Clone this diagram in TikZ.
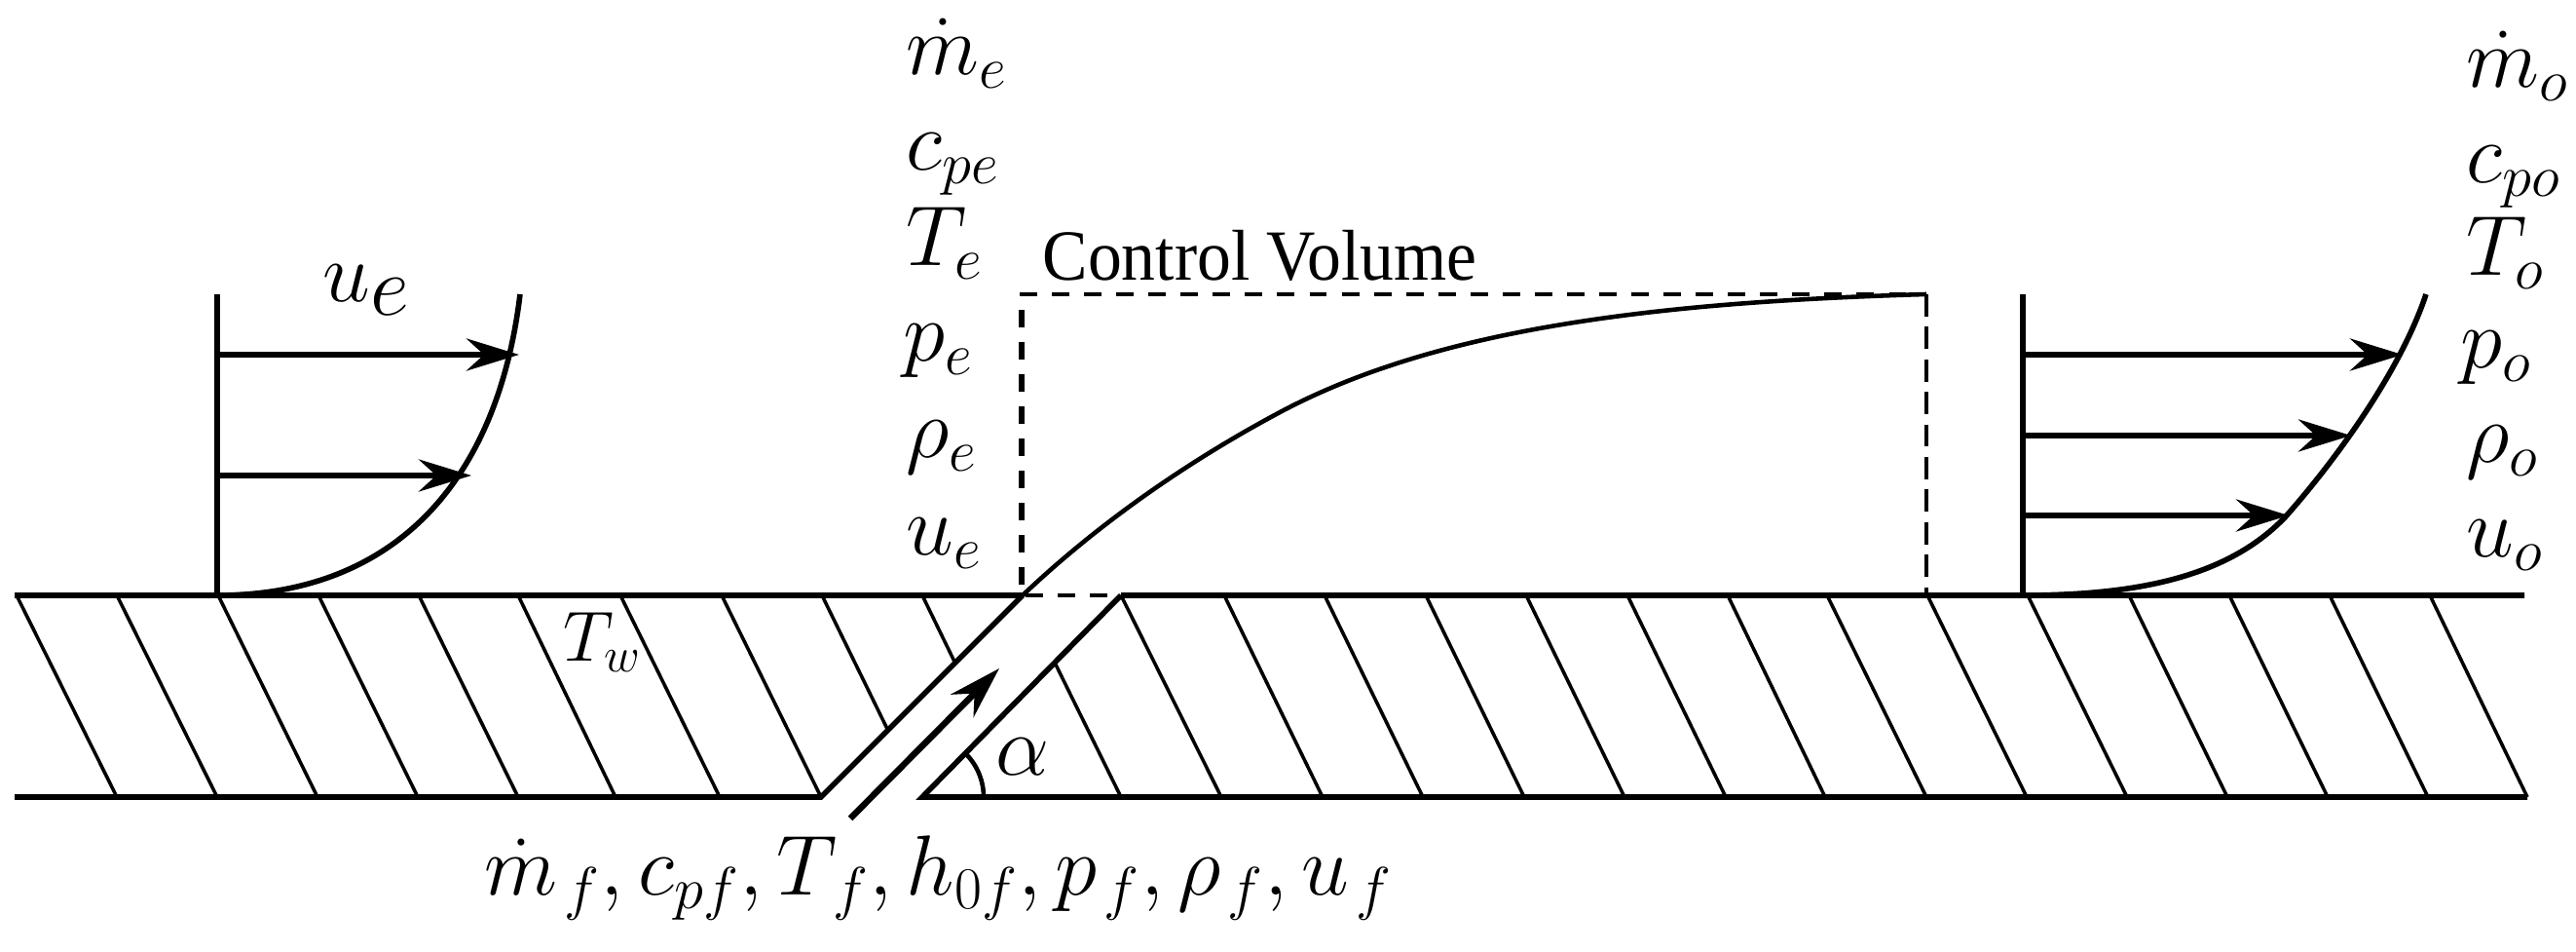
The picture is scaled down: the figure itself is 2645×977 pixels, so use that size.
\documentclass[tikz,border=0pt]{standalone}
\usepackage[no-math]{fontspec}
\usetikzlibrary{arrows.meta}
\newfontfamily\cvfont[FakeStretch=0.943]{Liberation Serif}
\DeclareMathSizes{23}{23}{17}{13}
\DeclareMathSizes{32}{32}{23}{16}
\DeclareMathSizes{20}{20}{14}{11}
\DeclareMathSizes{36}{36}{26}{18}
\tikzset{
  wall/.style={line width=1.6pt},
  hatch/.style={line width=1pt},
  profile/.style={line width=1.6pt},
  axisline/.style={line width=1.7pt},
  velarrow/.style={line width=1.85pt,-{Stealth[length=5.4mm,width=3.3mm,inset=1.8mm]}},
  cvdash/.style={line width=1.4pt,dash pattern=on 5.1pt off 4.3pt},
  cvside/.style={line width=1.7pt,dash pattern=on 5pt off 4.4pt},
  lbl/.style={anchor=base west,inner sep=0pt,font=\fontsize{23}{28}\selectfont}
}
\begin{document}
\begin{tikzpicture}[x=0.01cm,y=-0.01cm]
      \useasboundingbox (0,0) rectangle (2645,977);
      \draw
        (930,77) node[lbl] (me){$\dot m_e$}
        (930,175) node[lbl] (cpe){$c_{pe}$}
        (930,273) node[lbl] (Te){$T_e$}
        (927,371) node[lbl] (pe){$p_e$}
        (930,470) node[lbl] (rhoe){$\rho_e$}
        (930,570) node[lbl] (ue){$u_e$}
        (2532,90) node[lbl] (mo){$\dot m_o$}
        (2532,188) node[lbl] (cpo){$c_{po}$}
        (2532,283) node[lbl] (To){$T_o$}
        (2526,378) node[lbl] (po){$p_o$}
        (2532,475) node[lbl] (rhoo){$\rho_o$}
        (2532,572) node[lbl] (uo){$u_o$}
        (331,310) node[lbl,font=\fontsize{32}{38}\selectfont] (ut){$u_e$}
        (1070,288) node[lbl,font=\fontsize{21}{25}\cvfont] (cv){Control Volume}
        (578,679) node[lbl,font=\fontsize{20}{24}\selectfont] (tw){$T_w$}
        (1022,796) node[lbl,font=\fontsize{36}{42}\selectfont] (al){$\alpha$}
        (497,919) node[lbl] (feed){$\dot m_{\mkern2mu f},c_{pf},T_{\mkern2mu f},h_{0f},p_{\mkern2mu f},\rho_{\mkern2mu f},u_{\mkern2mu f}$};
      \coordinate (wl) at (15,611);
      \coordinate (wa) at (1050,611);
      \coordinate (wa2) at (1053,611);
      \coordinate (wb) at (1151,611);
      \coordinate (wr) at (2592,611);
      \coordinate (bl) at (15,818);
      \coordinate (ba) at (843,818);
      \coordinate (bb) at (947,818);
      \coordinate (br) at (2595,818);
      \coordinate (cva) at (1047,302);
      \coordinate (cvb) at (1049,318);
      \coordinate (cvc) at (1978,302);
      \coordinate (cvd) at (1978,611);
      \coordinate (jet0) at (873,840);
      \coordinate (jet1) at (1026,686);
      \draw[wall] (wl) -- (wa) (wb) -- (wr) (bl) -- (ba) -- (wa) (wb) -- (bb) -- (br);
      \begin{scope}[hatch]
        \draw (17,611) to (120,818);
        \draw (120,611) to (223,818);
        \draw (224,611) to (326,818);
        \draw (327,611) to (429,818);
        \draw (430,611) to (532,818);
        \draw (532,611) to (632,818);
        \draw (637,611) to (739,818);
        \draw (741,611) to (843,818);
        \draw (844,611) to (911,748);
        \draw (947,611) to (981,681);
        \draw (1083,680) to (1151,818);
        \draw (1151,611) to (1254,818);
        \draw (1257,611) to (1358,818);
        \draw (1360,611) to (1461,818);
        \draw (1464,611) to (1565,818);
        \draw (1567,611) to (1668,818);
        \draw (1671,611) to (1772,818);
        \draw (1774,611) to (1874,818);
        \draw (1876,611) to (1978,818);
        \draw (1979,611) to (2081,818);
        \draw (2082,611) to (2184,818);
        \draw (2186,611) to (2287,818);
        \draw (2289,611) to (2390,818);
        \draw (2392,611) to (2493,818);
        \draw (2495,611) to (2595,818);
      \end{scope}
      % control volume
      \draw[cvdash] (cva) -- (cvc) (wa2) -- (wb);
      \draw[cvside] (cvb) -- (1049,611);
      \draw[hatch,dash pattern=on 6.5pt off 3pt] (cvc) -- (cvd);
      \draw[line width=1.3pt] (wa) .. controls (1130,535) and (1225,470) .. (1320,420)
        .. controls (1480,337) and (1700,310) .. (cvc);
      % inlet profile
      \coordinate (ia) at (223,302);
      \coordinate (ib) at (223,611);
      \coordinate (it) at (534,302);
      \coordinate (i1) at (223,364);
      \coordinate (i2) at (223,488);
      \coordinate (i1e) at (533,364);
      \coordinate (i2e) at (484,488);
      \draw[axisline] (ia) -- (ib);
      \draw[profile] (ib) .. controls (400,611) and (510,500) .. (it);
      \draw[velarrow] (i1) -- (i1e);
      \draw[velarrow] (i2) -- (i2e);
      % outlet profile
      \coordinate (oa) at (2077,302);
      \coordinate (ob) at (2077,611);
      \coordinate (ot) at (2491,302);
      \coordinate (o1) at (2077,364);
      \coordinate (o2) at (2077,447);
      \coordinate (o3) at (2077,529);
      \coordinate (o1e) at (2467,364);
      \coordinate (o2e) at (2414,447);
      \coordinate (o3e) at (2350,529);
      \draw[axisline] (oa) -- (ob);
      \draw[profile] (ob) .. controls (2200,611) and (2290,590) .. (2347,530)
        .. controls (2400,470) and (2465,380) .. (ot);
      \draw[velarrow] (o1) -- (o1e);
      \draw[velarrow] (o2) -- (o2e);
      \draw[velarrow] (o3) -- (o3e);
      % jet and angle
      \draw[velarrow] (jet0) -- (jet1);
      \draw[hatch,line width=1.3pt] (1010,818) arc[start angle=0,end angle=-45,radius=63];
\end{tikzpicture}
\end{document}
